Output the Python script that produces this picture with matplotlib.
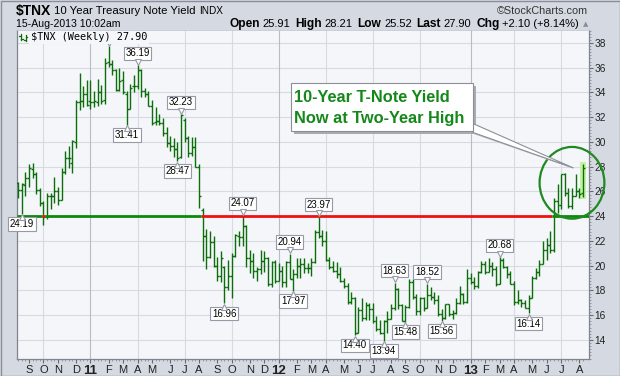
import matplotlib
matplotlib.use("Agg")
import matplotlib.pyplot as plt
import matplotlib.transforms as mtransforms
from matplotlib.collections import LineCollection
from matplotlib.patches import Rectangle, Ellipse, Polygon
from matplotlib.lines import Line2D
import numpy as np
import pandas as pd

# ---------------- data ----------------
symbol = "$TNX"
name = "10 Year Treasury Note Yield"
exchange = "INDX"
timestamp = "15-Aug-2013 10:02am"
period = "Weekly"
support_level = 24.0

week_ending = pd.date_range("2010-08-20", periods=157, freq="W-FRI")

opens = [26.7, 26.1, 26.5, 27.1, 27.8, 27.4, 26.1, 25.1, 24.0, 25.6,
         25.6, 26.0, 25.3, 27.6, 28.7, 28.3, 30.0, 33.2, 33.3, 33.9,
         33.3, 33.2, 33.2, 34.0, 33.4, 36.5, 36.3, 35.8, 34.2, 35.0,
         33.9, 32.7, 34.5, 34.5, 35.8, 34.1, 33.9, 32.9, 31.6, 31.7,
         31.5, 30.7, 29.9, 29.7, 29.4, 28.8, 31.8, 30.3, 29.1, 29.6,
         28.0, 24.5, 22.4, 20.7, 21.9, 20.0, 19.2, 19.9, 18.3, 19.2,
         20.8, 22.4, 22.3, 23.2, 20.6, 20.4, 19.6, 19.7, 20.4, 20.6,
         18.5, 20.3, 18.8, 19.6, 18.7, 20.3, 18.9, 19.3, 20.0, 20.1,
         19.8, 19.8, 20.3, 22.7, 22.4, 22.0, 20.5, 19.9, 19.6, 19.3,
         18.8, 18.4, 17.1, 17.4, 14.6, 16.4, 15.8, 16.8, 16.5, 15.5,
         14.9, 14.6, 15.5, 15.7, 16.6, 18.1, 16.8, 15.5, 16.7, 18.7,
         17.5, 16.3, 17.4, 16.6, 17.6, 17.5, 17.2, 16.1, 15.8, 16.9,
         16.1, 16.2, 17.0, 17.7, 17.1, 19.0, 18.7, 18.4, 19.5, 20.1,
         19.5, 20.0, 19.7, 18.5, 20.5, 19.9, 19.3, 18.5, 17.1, 17.2,
         17.0, 16.6, 17.4, 19.0, 19.5, 20.1, 21.3, 21.7, 21.3, 25.2,
         24.9, 27.4, 25.9, 24.8, 25.6, 26.0, 25.91]
highs = [26.8, 26.7, 27.6, 28.2, 28.3, 27.6, 26.3, 25.2, 25.9, 25.9,
         27.2, 26.4, 27.9, 29.3, 29.7, 30.2, 33.4, 35.6, 34.5, 35.0,
         35.0, 34.1, 35.1, 34.6, 36.8, 37.74, 36.6, 35.9, 36.0, 35.7,
         34.1, 34.7, 35.4, 36.19, 35.9, 34.4, 34.1, 33.4, 32.8, 32.3,
         31.9, 31.2, 30.5, 30.3, 30.0, 32.23, 31.9, 30.5, 30.4, 30.4,
         28.2, 24.7, 23.0, 22.8, 22.4, 20.7, 21.2, 20.0, 20.5, 21.0,
         22.6, 22.8, 24.07, 23.3, 21.3, 21.0, 19.9, 21.3, 21.2, 20.7,
         20.4, 20.5, 20.2, 20.0, 20.4, 20.94, 19.7, 20.6, 20.6, 20.6,
         20.2, 20.6, 22.9, 23.97, 22.9, 22.8, 20.7, 20.4, 20.3, 19.9,
         19.0, 18.6, 17.9, 17.5, 16.7, 17.4, 17.1, 17.0, 17.0, 15.9,
         15.6, 15.6, 16.3, 16.9, 18.63, 18.2, 16.9, 16.8, 18.9, 18.9,
         17.7, 17.5, 17.5, 18.52, 18.3, 17.9, 17.6, 16.5, 16.9, 16.9,
         16.4, 17.4, 18.4, 17.8, 19.7, 19.4, 19.1, 19.6, 20.4, 20.4,
         20.6, 20.3, 20.0, 20.68, 20.6, 20.0, 19.6, 18.8, 18.0, 17.3,
         17.2, 17.6, 19.2, 19.8, 20.5, 22.0, 22.2, 22.8, 25.5, 26.6,
         27.4, 27.5, 26.3, 26.3, 27.4, 26.3, 28.21]
lows = [25.5, 24.19, 25.6, 26.4, 27.1, 25.8, 24.8, 23.3, 23.8, 24.6,
        25.1, 24.9, 25.3, 27.4, 27.9, 27.5, 29.5, 32.6, 32.8, 32.9,
        32.7, 32.8, 32.9, 33.1, 33.1, 36.1, 35.4, 34.1, 34.1, 33.9,
        31.41, 32.7, 34.0, 34.3, 33.6, 33.6, 32.9, 31.4, 31.35, 31.4,
        30.5, 29.6, 29.3, 28.8, 28.47, 28.7, 30.0, 28.8, 28.9, 28.0,
        24.7, 20.4, 19.7, 20.6, 19.9, 18.8, 18.7, 16.96, 18.0, 17.4,
        20.7, 21.6, 21.6, 19.9, 19.4, 19.0, 18.8, 19.3, 19.5, 18.4,
        18.3, 18.6, 18.8, 18.3, 18.3, 18.9, 17.97, 19.0, 19.0, 19.4,
        19.4, 19.2, 20.2, 22.2, 21.6, 20.4, 19.7, 19.5, 19.0, 18.7,
        18.2, 16.9, 16.9, 14.40, 14.6, 15.5, 15.6, 15.6, 15.4, 14.7,
        14.5, 13.94, 14.6, 15.7, 16.4, 16.5, 15.5, 15.48, 16.6, 17.3,
        16.0, 16.0, 16.3, 16.6, 17.2, 16.9, 15.9, 15.56, 15.7, 15.9,
        15.7, 16.1, 16.9, 16.9, 17.0, 18.5, 18.1, 18.2, 19.4, 19.3,
        19.5, 19.2, 18.4, 18.5, 19.8, 19.0, 18.5, 16.8, 16.9, 16.7,
        16.6, 16.14, 17.4, 18.9, 19.2, 20.1, 20.5, 21.0, 21.1, 24.3,
        24.6, 25.6, 24.7, 24.6, 25.6, 25.5, 25.52]
closes = [26.1, 26.6, 27.1, 27.9, 27.4, 26.1, 25.1, 23.9, 25.6, 25.6,
          26.0, 25.3, 27.6, 28.7, 28.7, 30.1, 33.2, 33.3, 33.9, 33.0,
          33.2, 33.3, 34.0, 33.3, 36.4, 36.3, 35.8, 34.2, 34.9, 34.0,
          32.7, 34.4, 34.5, 35.8, 34.1, 33.9, 32.9, 31.5, 31.7, 31.5,
          30.7, 29.9, 29.7, 29.4, 28.7, 32.2, 30.3, 29.1, 29.6, 28.0,
          25.6, 22.4, 20.7, 21.9, 20.0, 19.2, 20.6, 18.3, 19.2, 20.8,
          22.5, 22.3, 23.2, 20.6, 20.4, 19.6, 19.7, 20.4, 20.6, 18.5,
          20.3, 18.8, 19.6, 18.7, 20.3, 18.9, 19.3, 20.0, 20.1, 19.8,
          19.8, 20.3, 22.7, 22.4, 22.0, 20.5, 19.9, 19.6, 19.3, 18.8,
          18.4, 17.1, 17.4, 14.6, 16.4, 15.8, 16.8, 16.5, 15.5, 14.9,
          14.6, 15.5, 15.7, 16.6, 18.1, 16.8, 15.5, 16.7, 18.7, 17.5,
          16.3, 17.4, 16.6, 17.6, 17.5, 17.2, 16.1, 15.8, 16.9, 16.1,
          16.2, 17.0, 17.7, 17.1, 19.0, 18.7, 18.4, 19.5, 20.1, 19.5,
          20.0, 19.7, 18.5, 20.5, 19.9, 19.3, 18.5, 17.1, 17.2, 17.0,
          16.6, 17.4, 19.0, 19.5, 20.1, 21.3, 21.7, 21.3, 25.2, 24.9,
          27.4, 25.9, 24.8, 25.6, 26.0, 25.8, 27.90]

high_label_bars = [33, 45, 62, 75, 83, 104, 113, 133]
low_label_bars = [1, 30, 44, 57, 76, 93, 101, 107, 117, 141]
hidden_peak_bar = 25   # its label sits behind the legend row; only the pointer shows

callout_lines = ["10-Year T-Note Yield", "Now at Two-Year High"]

# ---------------- styling ----------------
W, H = 620, 376
FIG_BG = "#d5d9e1"
PLOT_BG = "#f5f6fa"
BAR_COL = "#0b6e0b"
GREEN_LINE = "#0a8a0a"
RED_LINE = "#f01010"
FONT = ["Liberation Sans", "DejaVu Sans"]
plt.rcParams["font.family"] = FONT

fig = plt.figure(figsize=(W / 100, H / 100), dpi=100)
fig.patch.set_facecolor(FIG_BG)

PL, PR, PT, PB = 17, 589, 30, 359
ax = fig.add_axes([PL / W, 1 - PB / H, (PR - PL) / W, (PB - PT) / H])
ax.set_facecolor(PLOT_BG)

o, h, l, c = (np.array(a, dtype=float) for a in (opens, highs, lows, closes))
n = len(c)
idx = np.arange(n)
XMIN, XMAX = -0.3, n + 0.7
ax.set_xlim(XMIN, XMAX)
ax.set_ylim(12.46, 39.05)

# months / grid
mondays = week_ending - pd.Timedelta(days=4)
months = np.array(mondays.month)
years = np.array(mondays.year)
first_idx = [i for i in range(1, n) if months[i] != months[i - 1]]
tick_labels = []
for i in first_idx:
    if months[i] == 1:
        tick_labels.append(f"{years[i] % 100:02d}")
    else:
        tick_labels.append("JFMAMJJASOND"[months[i] - 1])
for i in first_idx:
    if months[i] in (1, 4, 7, 10):
        col = "#b9bcc6" if months[i] == 1 else "#d8dae1"
        ax.axvline(i, color=col, lw=0.8, zorder=1)

ax.set_yticks(np.arange(14, 39, 2))
ax.yaxis.grid(True, color="#d8dae1", lw=0.8, zorder=1)
ax.set_axisbelow(True)
ax.yaxis.tick_right()
ax.yaxis.set_label_position("right")
ax.set_yticks(np.arange(12.5, 39.05, 0.25), minor=True)
ax.tick_params(axis="y", which="major", length=3, color="#666a72", labelsize=7.3,
               labelcolor="#222222", pad=1)
ax.tick_params(axis="y", which="minor", length=1.5, color="#8a8e96")

ax.set_xticks(first_idx)
ax.set_xticklabels(tick_labels)
ax.set_xticks(idx, minor=True)
ax.tick_params(axis="x", which="major", length=3, color="#666a72", labelsize=8,
               labelcolor="#222222", pad=1.5)
ax.tick_params(axis="x", which="minor", length=1.5, color="#8a8e96")
for t, i in zip(ax.get_xticklabels(), first_idx):
    if months[i] == 1:
        t.set_fontweight("bold")
        t.set_fontsize(9.5)

for s in ("left", "bottom", "right"):
    ax.spines[s].set_color("#7f848e")
    ax.spines[s].set_linewidth(0.9)
ax.spines["top"].set_color("#c4c8d0")
ax.spines["top"].set_linewidth(0.6)

# OHLC bars
ax.vlines(idx, l, h, color=BAR_COL, lw=1.0, zorder=4)
ax.hlines(o, idx - 0.55, idx, color=BAR_COL, lw=1.0, zorder=4)
ax.hlines(c, idx, idx + 0.55, color=BAR_COL, lw=1.0, zorder=4)

# highlight latest bar
ax.add_patch(Rectangle((idx[-1] - 0.75, l[-1] - 0.15), 1.5, h[-1] - l[-1] + 0.3,
                       fc="#c4f2a2", ec="none", zorder=3))

# support / resistance line: one run per colour change (red where close is below)
below = c < support_level
segs, cols = [], []
start = 0
for i in range(1, n + 1):
    if i == n or below[i] != below[start]:
        x0 = XMIN if start == 0 else start - 0.5
        x1 = XMAX if i == n else i - 0.5
        segs.append([(x0, support_level), (x1, support_level)])
        cols.append(RED_LINE if below[start] else GREEN_LINE)
        start = i
ax.add_collection(LineCollection(segs, colors=cols, linewidths=2.0, zorder=5,
                                 capstyle="butt"))

# value labels
def pointer(i, val, above):
    tr = mtransforms.offset_copy(ax.transData, fig=fig, x=0, y=(2.6 if above else -2.6),
                                 units="points")
    ax.plot([i], [val], marker="v" if above else "^", ms=4.5, mfc="white",
            mec="#979aa6", mew=0.8, transform=tr, zorder=9, clip_on=False)

def value_label(i, val, above):
    dy = 8.6 if above else -7.4
    ax.annotate(f"{val:.2f}", xy=(i, val), xytext=(0, dy), textcoords="offset points",
                ha="center", va="center", fontsize=7, color="black",
                bbox=dict(boxstyle="square,pad=0.18", fc="white", ec="#979aa6", lw=0.8),
                zorder=8, annotation_clip=False)
    pointer(i, val, above)

for i in high_label_bars:
    value_label(i, h[i], True)
for i in low_label_bars:
    value_label(i, l[i], False)
pointer(hidden_peak_bar, h[hidden_peak_bar], True)

# circle around the latest bars
ax.add_patch(Ellipse((153, 26.7), 17.9, 5.8, fc="none", ec="#1f8a1f", lw=1.6,
                     zorder=7, clip_on=False))

# ---------------- header ----------------
renderer = fig.canvas.get_renderer()

def place_seq(pieces, x0, y, align="left"):
    arts = []
    for s, kw, gap in pieces:
        t = fig.text(0, 1 - y / H, s, va="center", ha="left", parse_math=False, **kw)
        arts.append((t, gap))
    widths = [t.get_window_extent(renderer).width for t, _ in arts]
    total = sum(widths) + sum(g for _, g in arts[:-1])
    x = x0 if align == "left" else x0 - total
    for (t, gap), w in zip(arts, widths):
        t.set_x(x / W)
        x += w + gap

place_seq([(symbol, dict(fontsize=10, fontweight="bold"), 3),
           (name, dict(fontsize=8.2), 3),
           (exchange, dict(fontsize=7.2), 0)], 16, 11)
fig.text(588 / W, 1 - 11 / H, "\u00a9StockCharts.com", ha="right", va="center",
         fontsize=7.8, color="#333333")
fig.text(16 / W, 1 - 24 / H, timestamp, ha="left", va="center", fontsize=7.6)

chg = c[-1] - c[-2]
pct = chg / c[-2] * 100
B = dict(fontsize=8.6, fontweight="bold")
N = dict(fontsize=8)
place_seq([("Open", B, 2.5), (f"{o[-1]:.2f}", N, 5),
           ("High", B, 2.5), (f"{h[-1]:.2f}", N, 5),
           ("Low", B, 2.5), (f"{l[-1]:.2f}", N, 5),
           ("Last", B, 2.5), (f"{c[-1]:.2f}", N, 5),
           ("Chg", B, 2.5), (f"{chg:+.2f} ({pct:+.2f}%)", N, 0)], 579, 24, align="right")
fig.text(583 / W, 1 - 24 / H, "\u25b2", ha="left", va="center", fontsize=5,
         color="#8a8e96", family="DejaVu Sans")

# legend row inside plot
fig.text(31 / W, 1 - 37.5 / H, f"{symbol} ({period}) {c[-1]:.2f}", ha="left", va="center",
         fontsize=7.4, family="DejaVu Sans Mono", parse_math=False, zorder=10,
         bbox=dict(fc=PLOT_BG, ec="none", pad=1.2))
ident = mtransforms.IdentityTransform()
for bx, y1, y2, yo, yc in [(21, 34, 40, 35.5, 38.5), (25.5, 35, 41, 39.5, 36.5)]:
    fig.add_artist(Line2D([bx, bx], [H - y1, H - y2], color=BAR_COL, lw=0.9, transform=ident))
    fig.add_artist(Line2D([bx - 1.8, bx], [H - yo, H - yo], color=BAR_COL, lw=0.9, transform=ident))
    fig.add_artist(Line2D([bx, bx + 1.8], [H - yc, H - yc], color=BAR_COL, lw=0.9, transform=ident))

# ---------------- callout ----------------
bx0, by0, bx1, by1 = 291, 83, 473, 131
fig.add_artist(Rectangle((bx0 + 3, H - by1 - 3), bx1 - bx0, by1 - by0, transform=ident,
                         fc="#a7abb3", ec="none", zorder=11))
tip = ax.transData.transform((idx[-1] - 2.6, c[-1]))
fig.add_artist(Polygon([(466 + 2, H - 130 - 2), (474 + 2, H - 124 - 2), (tip[0] + 1, tip[1] - 1)],
                       closed=True, transform=ident, fc="#b4b7be", ec="none", zorder=11))
fig.add_artist(Polygon([(466, H - 130), (474, H - 124), (tip[0], tip[1])], closed=True,
                       transform=ident, fc="white", ec="#8c8f96", lw=0.8, zorder=12))
fig.add_artist(Rectangle((bx0, H - by1), bx1 - bx0, by1 - by0, transform=ident,
                         fc="white", ec="#8c8f96", lw=0.8, zorder=13))
for k, line in enumerate(callout_lines):
    fig.text((bx0 + 3.5) / W, 1 - (97 + 21 * k) / H, line, ha="left", va="center",
             fontsize=11.8, fontweight="bold", color="#14881a", zorder=14)

# outer border
fig.add_artist(Rectangle((0.5, 0.5), W - 1, H - 1, transform=ident, fc="none",
                         ec="#8a8e98", lw=1, zorder=20))

fig.savefig("out.png", dpi=100, facecolor=FIG_BG)
